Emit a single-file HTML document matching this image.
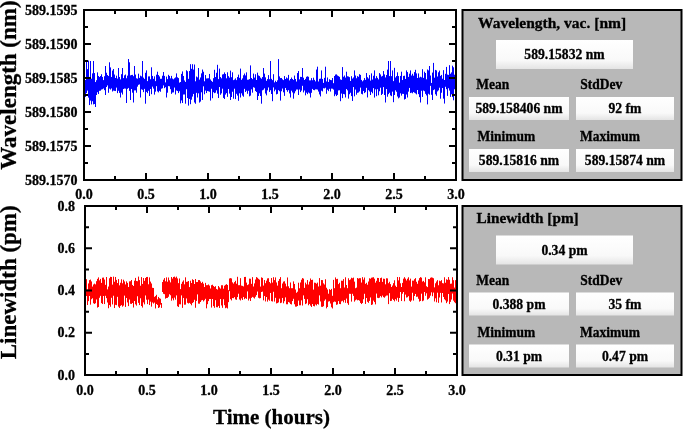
<!DOCTYPE html>
<html><head><meta charset="utf-8"><style>
html,body{margin:0;padding:0;background:#fff;}
svg{display:block;will-change:transform;}
text{font-family:"Liberation Serif", serif;font-weight:bold;fill:#000;stroke:#000;stroke-width:0.3px;}
.tk{font-size:14px;}
.at{font-size:23px;}
.at2{font-size:21px;}
.pt{font-size:15.5px;}
.pl{font-size:13.5px;}
.pv{font-size:14px;}
</style></head><body>
<svg width="685" height="430" viewBox="0 0 685 430">
<defs><linearGradient id="bg" x1="0" y1="0" x2="0" y2="1"><stop offset="0" stop-color="#ffffff"/><stop offset="0.7" stop-color="#f9f9f9"/><stop offset="1" stop-color="#e4e4e4"/></linearGradient></defs>
<path d="M85.5 80.02V96.91M86.5 61V93.06M87.5 69.15V90.62M88.5 60.6V97.61M89.5 76.93V105.07M90.5 61V100.61M91.5 78.7V104.4M92.5 73.4V101.28M93.5 61V104.4M94.5 73.06V104M95.5 82.06V107M96.5 80.19V95.01M97.5 72.36V92.26M98.5 75.97V94.05M99.5 77.04V90.85M100.5 76.04V90.69M101.5 74.24V89.54M102.5 76.91V89.23M103.5 80.1V88.5M104.5 76.2V90.18M105.5 66V95M106.5 72.76V87M107.5 75.06V85.43M108.5 76.03V92.81M109.5 62.3V88.65M110.5 67.42V89.55M111.5 77.02V88.44M112.5 70.58V91.51M113.5 69V90.62M114.5 74.51V90.86M115.5 77.97V91.06M116.5 75.68V87.64M117.5 78.61V93.14M118.5 68V90.81M119.5 76.96V92.92M120.5 79.4V97.5M121.5 74.18V92.61M122.5 68V94.52M123.5 78.1V89.03M124.5 75.33V88.54M125.5 74.53V88.67M126.5 78.26V103M127.5 75.63V88.88M128.5 59V87.96M129.5 62.3V90.93M130.5 75.39V100M131.5 74.98V89.04M132.5 74.84V92.69M133.5 76.18V102.5M134.5 66V90.42M135.5 74.56V90.39M136.5 78.28V92.71M137.5 78.66V86.63M138.5 73.68V84.83M139.5 77.89V84.43M140.5 75.66V97.5M141.5 76.39V89.35M142.5 61V89.84M143.5 77.61V92.14M144.5 78.86V88.87M145.5 72.81V103.7M146.5 70.37V91.91M147.5 81.1V93.15M148.5 76.41V90.79M149.5 76.35V96M150.5 79.24V88.99M151.5 67.3V94.22M152.5 75.93V86.64M153.5 78.84V88.61M154.5 76.34V94.64M155.5 81.14V91.68M156.5 74.68V86.16M157.5 71.7V91.39M158.5 75.04V92.4M159.5 76.43V90.86M160.5 78.82V91.75M161.5 78.74V88.73M162.5 75.73V88.28M163.5 72V85.43M164.5 75.88V88.17M165.5 82.39V87.19M166.5 76.58V97.5M167.5 79.13V92.7M168.5 74.82V86.1M169.5 75.98V86.33M170.5 78.36V89.19M171.5 75.88V93.86M172.5 78.56V92.52M173.5 79.29V92.4M174.5 78.28V87.57M175.5 77.4V94.52M176.5 73.4V90.5M177.5 77.29V91.06M178.5 78.08V93.09M179.5 82.59V91.26M180.5 82.01V103.36M181.5 73.89V100.43M182.5 71.41V103M183.5 75.97V94.54M184.5 80.44V94.49M185.5 81.9V103.7M186.5 70.28V89.22M187.5 71.23V98.04M188.5 78.85V105.6M189.5 70.99V98.99M190.5 64.2V104.21M191.5 68.82V99.71M192.5 64.2V96.57M193.5 69.57V93.94M194.5 64.5V102.48M195.5 81.3V103.76M196.5 76.51V92.87M197.5 77.35V97.5M198.5 68V93.34M199.5 79.61V102.58M200.5 77.48V101.59M201.5 73.36V92.29M202.5 69.54V100M203.5 71.73V86.35M204.5 81.28V94.28M205.5 75.04V90.58M206.5 78.49V93.05M207.5 78.33V91.07M208.5 78.23V91.35M209.5 73.94V91.75M210.5 79.49V100.6M211.5 80.87V88.79M212.5 81.83V98.24M213.5 78.17V92.2M214.5 69.8V93.16M215.5 77.03V92.69M216.5 72.77V90.33M217.5 64.8V93.7M218.5 79.1V98.04M219.5 68.6V87.04M220.5 77.06V94.78M221.5 78.29V93.36M222.5 74.47V88.69M223.5 74.14V97.9M224.5 72.42V99.03M225.5 73.94V94.6M226.5 78.3V93.14M227.5 72.3V96.86M228.5 76.16V88.98M229.5 77.64V93.61M230.5 70.6V100M231.5 77.21V97M232.5 72.3V91.75M233.5 80.11V98.7M234.5 79.57V88.73M235.5 78.37V99.08M236.5 80.1V93.8M237.5 77.06V95.59M238.5 74.64V100.78M239.5 77.84V93.32M240.5 68.6V97.5M241.5 79.81V93.35M242.5 78.37V95.57M243.5 75.27V96.73M244.5 73.55V88.85M245.5 75.43V92.06M246.5 72.36V90.71M247.5 79.76V93.78M248.5 79.65V90.82M249.5 79.11V96.33M250.5 65.4V95.63M251.5 77.99V89.35M252.5 79.15V92.68M253.5 73.58V87.28M254.5 77.61V87.75M255.5 74.23V91.06M256.5 80V92.04M257.5 72.65V100M258.5 75.42V95.99M259.5 76.07V93.33M260.5 77.66V96.02M261.5 78.7V103.7M262.5 77.04V90.33M263.5 68V89.71M264.5 73.61V88.33M265.5 77.34V93.54M266.5 80.82V95.37M267.5 79.12V90.4M268.5 75.12V87.46M269.5 79.19V91.96M270.5 61V90.22M271.5 78.84V94.02M272.5 80.14V101.2M273.5 74.2V87.43M274.5 82.36V91.33M275.5 80.72V89.66M276.5 82V94.37M277.5 80.31V93.89M278.5 59.1V90.15M279.5 76.38V91.23M280.5 78.06V100.6M281.5 77.98V91.26M282.5 79.31V88.55M283.5 80.1V92.33M284.5 76.04V95.89M285.5 78.99V87.96M286.5 77.44V90.12M287.5 78.37V91.79M288.5 74.89V90.17M289.5 80.4V93.45M290.5 79V97.5M291.5 77.53V90.71M292.5 78.97V92.44M293.5 79.91V98.7M294.5 75.56V93.37M295.5 78.97V91.26M296.5 81.53V89.55M297.5 73.05V89.51M298.5 71V95M299.5 79.35V89.49M300.5 76.84V92.12M301.5 76.97V90.62M302.5 68V85.83M303.5 77.72V92.42M304.5 80.01V90.5M305.5 78.87V95.33M306.5 76.81V92.69M307.5 76.29V94.13M308.5 76.8V92.51M309.5 80.35V93.4M310.5 80.35V97.5M311.5 78.09V92.82M312.5 80.23V88.93M313.5 77.69V90.02M314.5 79.87V90.22M315.5 81.38V89.36M316.5 69.55V89.38M317.5 66.7V89.62M318.5 81.47V91.57M319.5 78.85V94.44M320.5 78.67V96.41M321.5 70.42V90.69M322.5 78.95V91.4M323.5 82.88V88.24M324.5 77.85V88.45M325.5 66.7V87.76M326.5 81.45V93.76M327.5 77.49V89.75M328.5 81.96V91.13M329.5 79.23V88.84M330.5 79.96V91.58M331.5 80.19V88.63M332.5 78.03V88.74M333.5 83.16V89.62M334.5 76.01V96.2M335.5 74.56V94.42M336.5 74.36V96.04M337.5 75.48V94.91M338.5 76.11V90.45M339.5 76.82V90.29M340.5 79.44V101.2M341.5 79.87V93.59M342.5 67.09V98.16M343.5 76.74V93.95M344.5 75.52V94.33M345.5 77.58V97.5M346.5 71.7V89.07M347.5 76.26V90.37M348.5 76.51V98.63M349.5 77.13V94.26M350.5 80.98V92.75M351.5 76.2V96.1M352.5 78.58V100.98M353.5 77.48V87.06M354.5 70.4V96.33M355.5 75.47V89.58M356.5 78.24V94.7M357.5 76.13V92.82M358.5 76.77V92.5M359.5 74.2V91.43M360.5 74.88V87.63M361.5 79.91V93.84M362.5 81.33V94.38M363.5 80.29V90.99M364.5 78.07V93.1M365.5 79.87V92.21M366.5 73.03V87.85M367.5 77.23V97.45M368.5 78.47V90.2M369.5 75.08V91.45M370.5 80.58V95M371.5 73.39V91.83M372.5 79.56V93.31M373.5 75.76V88.14M374.5 70.38V97.59M375.5 78.35V89.34M376.5 76.11V96.2M377.5 77.85V89.21M378.5 79.38V95.31M379.5 73.1V91.25M380.5 74.43V87.71M381.5 76.52V95.02M382.5 75.88V93.86M383.5 71.03V87.1M384.5 74.38V95.02M385.5 77.46V102.5M386.5 75V89.05M387.5 69.63V96.74M388.5 61V94.17M389.5 76.07V92.75M390.5 61V95.42M391.5 76.15V96.18M392.5 70.4V91.64M393.5 81.12V102.19M394.5 67.84V94.99M395.5 77.46V90.32M396.5 76.07V91.79M397.5 72.3V96.52M398.5 76.06V98.38M399.5 82.63V97.5M400.5 75.92V93.35M401.5 71.7V95.62M402.5 80.03V93.85M403.5 75.91V93.92M404.5 75.71V99.56M405.5 78.97V98.92M406.5 70.4V94.51M407.5 72.09V97.5M408.5 76.91V91.65M409.5 73.66V87.95M410.5 70.4V93.07M411.5 75.5V92.63M412.5 73.76V93.32M413.5 75.69V92.04M414.5 72.08V92.72M415.5 69.8V93.4M416.5 73.4V94.39M417.5 78.01V90M418.5 73.45V94.14M419.5 77.54V97.17M420.5 76.74V102.5M421.5 77.35V90.78M422.5 69.2V96.94M423.5 77.89V90.55M424.5 71.7V91.23M425.5 73V93.85M426.5 79.31V95.43M427.5 69.49V104.4M428.5 70.38V93.79M429.5 66V94.7M430.5 75.52V85.88M431.5 82.94V94.8M432.5 72.58V100M433.5 62.9V90.17M434.5 77.7V89.4M435.5 69.92V94.32M436.5 70.42V95.79M437.5 76.49V91.43M438.5 72.3V90.36M439.5 70.62V87.71M440.5 75.88V98.7M441.5 74.93V92.76M442.5 78.72V88.01M443.5 70.16V98.65M444.5 80V103.57M445.5 73.82V86.79M446.5 66.91V89.18M447.5 74.56V95.9M448.5 74.91V88.25M449.5 65.18V90.58M450.5 73.76V96.86M451.5 72.38V94.33M452.5 65.7V97.07M453.5 67.3V100.29M454.5 74.71V89.27M455.5 74.97V94.73" fill="none" stroke="#0000ff" stroke-width="1"/>
<rect x="84" y="10" width="372" height="170" fill="none" stroke="#000" stroke-width="2"/>
<path d="M84 180V173M84 10V17M146 180V173M146 10V17M208 180V173M208 10V17M270 180V173M270 10V17M332 180V173M332 10V17M394 180V173M394 10V17M456 180V173M456 10V17M115 180V176M115 10V14M177 180V176M177 10V14M239 180V176M239 10V14M301 180V176M301 10V14M363 180V176M363 10V14M425 180V176M425 10V14M84 10H91M456 10H449M84 44H91M456 44H449M84 78H91M456 78H449M84 112H91M456 112H449M84 146H91M456 146H449M84 180H91M456 180H449M84 27H88M456 27H452M84 61H88M456 61H452M84 95H88M456 95H452M84 129H88M456 129H452M84 163H88M456 163H452" stroke="#000" stroke-width="2" fill="none"/>
<text x="77.5" y="15" text-anchor="end" class="tk">589.1595</text>
<text x="77.5" y="49" text-anchor="end" class="tk">589.1590</text>
<text x="77.5" y="83" text-anchor="end" class="tk">589.1585</text>
<text x="77.5" y="117" text-anchor="end" class="tk">589.1580</text>
<text x="77.5" y="151" text-anchor="end" class="tk">589.1575</text>
<text x="77.5" y="185" text-anchor="end" class="tk">589.1570</text>
<text x="84" y="199" text-anchor="middle" class="tk">0.0</text>
<text x="146" y="199" text-anchor="middle" class="tk">0.5</text>
<text x="208" y="199" text-anchor="middle" class="tk">1.0</text>
<text x="270" y="199" text-anchor="middle" class="tk">1.5</text>
<text x="332" y="199" text-anchor="middle" class="tk">2.0</text>
<text x="394" y="199" text-anchor="middle" class="tk">2.5</text>
<text x="456" y="199" text-anchor="middle" class="tk">3.0</text>
<path d="M86.5 279.18V296M87.5 289.49V305.01M88.5 283.44V301.14M89.5 280.13V295.97M90.5 279.58V304.67M91.5 281.42V299.27M92.5 286.57V298.28M93.5 284.48V303.26M94.5 283.64V303.94M95.5 284.36V303.24M96.5 281.18V299.46M97.5 278.88V307.62M98.5 277.38V306.97M99.5 280.35V297.79M100.5 278.92V295.87M101.5 282.9V303.13M102.5 277.69V304.02M103.5 277.54V296M104.5 279.54V304.06M105.5 284.84V295.82M106.5 277.01V298.16M107.5 289.37V302.5M108.5 286.57V308.25M109.5 278.25V305.05M110.5 276.81V306.77M111.5 277V297.81M112.5 284.61V304.43M113.5 276.62V295.75M114.5 281.72V308.04M115.5 276.97V304.83M116.5 279.9V305.17M117.5 283.06V296.84M118.5 279.07V306.65M119.5 285.35V307.94M120.5 282.71V305.88M121.5 279.27V305.12M122.5 283.31V306.69M123.5 279.71V305.61M124.5 281.43V295.64M125.5 284.44V306.93M126.5 281.36V297.98M127.5 282.87V302.46M128.5 287V306.1M129.5 281.37V299.57M130.5 281.21V303.77M131.5 279.99V303.95M132.5 284.94V303.03M133.5 286V307.53M134.5 280.69V301M135.5 277.9V304.37M136.5 280.97V305.6M137.5 281.21V296.27M138.5 276.6V302.86M139.5 280.11V305.05M140.5 285.72V298.28M141.5 277.12V306.06M142.5 283.94V307.59M143.5 278.02V302.4M144.5 280.84V304.38M145.5 278.03V295.48M146.5 277.03V299.7M147.5 276.93V304.11M148.5 284.29V299.63M149.5 277.4V305.04M150.5 281.58V301.67M151.5 283.47V306.64M152.5 287.79V302.47M153.5 287.97V303.58M154.5 296.85V302.62M155.5 296.08V308.48M156.5 294.81V304M157.5 299.37V304.96M158.5 296.94V308M159.5 298.22V307.32M160.5 298.74V304.7M161.5 303V307.9M162.5 282.04V292M163.5 279.74V293.8M164.5 278.09V294.21M165.5 281.31V298.67M166.5 277.37V298.04M167.5 281.72V297.93M168.5 277.51V296.79M169.5 280.31V294.25M170.5 282.37V295.24M171.5 276.99V300.68M172.5 278.59V298.39M173.5 276.98V300.33M174.5 276.58V297.62M175.5 277.69V299.66M176.5 276.62V295.4M177.5 278.41V306.26M178.5 283.13V307.03M179.5 278.47V304.26M180.5 289.1V304.39M181.5 283.8V295.4M182.5 281.71V307.88M183.5 280.37V297.98M184.5 284.31V304.73M185.5 277.33V304.62M186.5 281.88V298.46M187.5 281.65V302.83M188.5 281.01V303.52M189.5 287.09V302.92M190.5 280.7V303.85M191.5 283.03V305.29M192.5 279.25V303.05M193.5 280.05V302.18M194.5 284.01V299.8M195.5 278.99V307.77M196.5 282.07V300.93M197.5 282.03V294.4M198.5 280.07V303.67M199.5 280.06V303.69M200.5 281.45V302.01M201.5 283.06V300.46M202.5 281.83V299.97M203.5 283.67V301.42M204.5 287.02V300.29M205.5 282.86V298.82M206.5 285.18V308.34M207.5 285.13V304.2M208.5 284.48V301.1M209.5 285.59V299M210.5 288.48V299M211.5 285.17V307.57M212.5 284.71V299M213.5 285.96V306.15M214.5 286.91V307.8M215.5 286.16V300.18M216.5 288.94V307.2M217.5 289.56V307.31M218.5 286.03V305.94M219.5 287.39V307.96M220.5 288.6V299M221.5 285.24V305.45M222.5 285.26V307.82M223.5 288.7V299.23M224.5 285.71V305.16M225.5 284.83V308.21M226.5 284.15V307.7M227.5 284.96V308.51M228.5 290.15V302.17M229.5 278.47V291.2M230.5 278.12V299.18M231.5 278.46V300.45M232.5 282.35V298.04M233.5 283.58V298.23M234.5 282.1V297.15M235.5 280.81V299.41M236.5 283.7V299.82M237.5 276.81V297.07M238.5 285.21V293.74M239.5 285.16V299.47M240.5 278.16V300.48M241.5 285.61V298.41M242.5 285.89V299.98M243.5 286.42V296.98M244.5 276.98V299.2M245.5 276.88V298.19M246.5 282.62V298.9M247.5 285.08V291.43M248.5 284.34V300.53M249.5 278.6V298.61M250.5 278.75V300.98M251.5 283.83V297.9M252.5 277.14V296.92M253.5 286.51V297.59M254.5 283.42V298.54M255.5 279.53V296.77M256.5 277.08V295.1M257.5 277.77V291.57M258.5 278.82V297.81M259.5 279.67V298.42M260.5 286.57V298.14M261.5 277.36V291.99M262.5 277.9V291.63M263.5 285.59V300.35M264.5 280.04V295.97M265.5 283.18V301.46M266.5 280.7V297M267.5 278.41V301.61M268.5 278.21V299.64M269.5 282.03V300.76M270.5 283.3V292.99M271.5 278.01V301.17M272.5 282.6V301.53M273.5 277.19V291.77M274.5 280.1V301.58M275.5 277.44V297.84M276.5 282.44V303.41M277.5 285.59V303.1M278.5 280.91V302.42M279.5 278.98V298.68M280.5 277.12V303.13M281.5 288.2V302.67M282.5 283.49V297.96M283.5 281.59V303.34M284.5 281.26V301.22M285.5 283.58V297.4M286.5 286.41V304.27M287.5 277.46V304.29M288.5 286.29V301.99M289.5 288.2V302.62M290.5 282.47V304.07M291.5 288.2V304.48M292.5 288.2V301.04M293.5 281.39V298.8M294.5 283.94V304.25M295.5 289.51V306.65M296.5 292.77V306.64M297.5 291.71V306.03M298.5 282.72V300.59M299.5 288.27V305.32M300.5 282.47V305.3M301.5 279.71V300.33M302.5 278.07V305.56M303.5 278.62V295.4M304.5 287.88V298.95M305.5 282.61V304.14M306.5 284.33V303.42M307.5 280.07V299.2M308.5 284.57V305.25M309.5 281.61V303.94M310.5 278.49V305.68M311.5 279.99V306.97M312.5 279.74V304.06M313.5 289.6V306.05M314.5 282.63V306.38M315.5 282.86V304.51M316.5 283.69V305.45M317.5 282.61V303.99M318.5 286.47V304.62M319.5 278.09V295.4M320.5 285.68V301.46M321.5 280.03V306.8M322.5 280.11V306.92M323.5 283.35V306.19M324.5 284.53V300.73M325.5 279.24V299.39M326.5 287.72V308.37M327.5 289.46V307.01M328.5 293.71V301.59M329.5 289.17V301.2M330.5 289.94V303.54M331.5 288.87V307.29M332.5 295.8V308.47M333.5 279.87V302.21M334.5 288.2V301.53M335.5 277.44V301.86M336.5 279.11V304.84M337.5 278.82V304.41M338.5 284.12V301.09M339.5 282.75V303.95M340.5 288.2V304.16M341.5 280.68V301.4M342.5 280.81V300.8M343.5 279.11V302.39M344.5 287.51V300.12M345.5 277.3V302.85M346.5 284.97V298.59M347.5 288.2V303.2M348.5 278.27V304.88M349.5 280.11V293.8M350.5 279.4V293.88M351.5 277.72V301.62M352.5 278.23V293.8M353.5 277.6V295.88M354.5 281.62V301.63M355.5 288.2V300.26M356.5 287.6V299.47M357.5 278.01V300.34M358.5 278.61V300.06M359.5 278.15V300.75M360.5 278.2V302.91M361.5 282.57V304.06M362.5 277.15V303.07M363.5 279.6V299.26M364.5 277.53V293.8M365.5 283.83V303.93M366.5 282.82V298M367.5 284.74V301.77M368.5 281.5V302.83M369.5 278.29V300.92M370.5 278.72V297.46M371.5 277.69V304.98M372.5 277.46V304.46M373.5 277.22V300.62M374.5 278.71V302.1M375.5 282.65V304.4M376.5 280.8V293.59M377.5 277.92V297.84M378.5 278.03V298.13M379.5 281.95V297.71M380.5 278.12V296.07M381.5 277.61V297.38M382.5 281.87V295.61M383.5 278.67V297.17M384.5 278.86V297.72M385.5 284.32V296.42M386.5 278.25V295.56M387.5 278.4V295.47M388.5 283.19V304.11M389.5 281.78V293.2M390.5 284.13V301.07M391.5 287V300.8M392.5 285.5V298.84M393.5 283.17V300.05M394.5 280.31V301.38M395.5 285.65V299.17M396.5 287V300.62M397.5 277.03V297.81M398.5 280.36V301.92M399.5 277.11V298.03M400.5 283.3V292M401.5 287V301.04M402.5 282.88V293.73M403.5 278.65V292M404.5 277.16V301.27M405.5 278.62V294.6M406.5 280.49V297.56M407.5 278.73V297.25M408.5 277.27V296.16M409.5 280.38V300.78M410.5 278.65V301.85M411.5 286.57V300.51M412.5 280.61V292.77M413.5 280.67V300.6M414.5 279.2V295.97M415.5 278.11V293.96M416.5 281.76V296.83M417.5 283.79V296.66M418.5 280.51V298.81M419.5 278.13V301.6M420.5 277.11V300.94M421.5 277.67V293.69M422.5 281.55V301.23M423.5 280.89V300.57M424.5 282.3V292M425.5 277.32V295.77M426.5 286.21V293.31M427.5 287.08V299.64M428.5 279V298.85M429.5 279.14V297.78M430.5 277.78V295.66M431.5 277.36V292.35M432.5 277.66V296.22M433.5 278.24V292.58M434.5 287.35V301.5M435.5 283.27V298.34M436.5 281.47V302.25M437.5 280.13V292.7M438.5 285.26V302.85M439.5 280.68V297.49M440.5 281.17V292.87M441.5 280.13V302.49M442.5 283.1V292.99M443.5 283.41V296.94M444.5 277.26V299.28M445.5 282.72V300.38M446.5 279.27V303.15M447.5 279.86V301.6M448.5 277.07V293.97M449.5 279.76V304.09M450.5 283.79V301.87M451.5 283.6V299.55M452.5 277.24V293.57M453.5 280.18V300.67M454.5 287.58V302.23M455.5 280.13V303.21M456.5 277.44V302.76" fill="none" stroke="#ff0000" stroke-width="1"/>
<rect x="85" y="206" width="372" height="169" fill="none" stroke="#000" stroke-width="2"/>
<path d="M85 375V368M85 206V213M147 375V368M147 206V213M209 375V368M209 206V213M271 375V368M271 206V213M333 375V368M333 206V213M395 375V368M395 206V213M457 375V368M457 206V213M116 375V371M116 206V210M178 375V371M178 206V210M240 375V371M240 206V210M302 375V371M302 206V210M364 375V371M364 206V210M426 375V371M426 206V210M85 375.0H92M457 375.0H450M85 332.75H92M457 332.75H450M85 290.5H92M457 290.5H450M85 248.25H92M457 248.25H450M85 206.0H92M457 206.0H450M85 353.875H89M457 353.875H453M85 311.625H89M457 311.625H453M85 269.375H89M457 269.375H453M85 227.125H89M457 227.125H453" stroke="#000" stroke-width="2" fill="none"/>
<text x="75" y="379.7" text-anchor="end" class="tk">0.0</text>
<text x="75" y="337.45" text-anchor="end" class="tk">0.2</text>
<text x="75" y="295.2" text-anchor="end" class="tk">0.4</text>
<text x="75" y="252.95" text-anchor="end" class="tk">0.6</text>
<text x="75" y="210.7" text-anchor="end" class="tk">0.8</text>
<text x="85" y="394.5" text-anchor="middle" class="tk">0.0</text>
<text x="147" y="394.5" text-anchor="middle" class="tk">0.5</text>
<text x="209" y="394.5" text-anchor="middle" class="tk">1.0</text>
<text x="271" y="394.5" text-anchor="middle" class="tk">1.5</text>
<text x="333" y="394.5" text-anchor="middle" class="tk">2.0</text>
<text x="395" y="394.5" text-anchor="middle" class="tk">2.5</text>
<text x="457" y="394.5" text-anchor="middle" class="tk">3.0</text>
<text transform="translate(16.3,85) rotate(-90)" text-anchor="middle" class="at">Wavelength (nm)</text>
<text transform="translate(16.3,282.3) rotate(-90)" text-anchor="middle" class="at">Linewidth (pm)</text>
<text x="271.5" y="424" text-anchor="middle" class="at2">Time (hours)</text>
<rect x="462.5" y="10" width="219" height="170" fill="#b8b8b8" stroke="#000" stroke-width="2"/>
<text x="478" y="27.5" class="pt" style="font-size:15.5px">Wavelength, vac. [nm]</text>
<rect x="496" y="40" width="137" height="29" fill="url(#bg)"/><text transform="translate(564.5,59.3) scale(0.975,1)" text-anchor="middle" class="pv">589.15832 nm</text>
<text transform="translate(476.3,89.3) scale(1,1.1)" class="pl">Mean</text>
<text transform="translate(580.3,89.3) scale(1,1.1)" class="pl">StdDev</text>
<rect x="469" y="97" width="100" height="23" fill="url(#bg)"/><text transform="translate(519.0,113.3) scale(0.975,1)" text-anchor="middle" class="pv">589.158406 nm</text>
<rect x="576" y="97" width="98" height="23" fill="url(#bg)"/><text transform="translate(625.0,113.3) scale(0.975,1)" text-anchor="middle" class="pv">92 fm</text>
<text transform="translate(477.5,141.1) scale(1,1.1)" class="pl">Minimum</text>
<text transform="translate(580.0,141.1) scale(1,1.1)" class="pl">Maximum</text>
<rect x="469" y="149" width="100" height="23" fill="url(#bg)"/><text transform="translate(519.0,165.3) scale(0.975,1)" text-anchor="middle" class="pv">589.15816 nm</text>
<rect x="576" y="149" width="98" height="23" fill="url(#bg)"/><text transform="translate(625.0,165.3) scale(0.975,1)" text-anchor="middle" class="pv">589.15874 nm</text>
<rect x="462.5" y="206" width="219" height="169" fill="#b8b8b8" stroke="#000" stroke-width="2"/>
<text x="476.6" y="223.0" class="pt" style="font-size:15.25px">Linewidth [pm]</text>
<rect x="496" y="235.5" width="137" height="29" fill="url(#bg)"/><text transform="translate(564.5,254.8) scale(0.975,1)" text-anchor="middle" class="pv">0.34 pm</text>
<text transform="translate(476.3,284.8) scale(1,1.1)" class="pl">Mean</text>
<text transform="translate(580.3,284.8) scale(1,1.1)" class="pl">StdDev</text>
<rect x="469" y="292.5" width="100" height="23" fill="url(#bg)"/><text transform="translate(519.0,308.8) scale(0.975,1)" text-anchor="middle" class="pv">0.388 pm</text>
<rect x="576" y="292.5" width="98" height="23" fill="url(#bg)"/><text transform="translate(625.0,308.8) scale(0.975,1)" text-anchor="middle" class="pv">35 fm</text>
<text transform="translate(477.5,336.6) scale(1,1.1)" class="pl">Minimum</text>
<text transform="translate(580.0,336.6) scale(1,1.1)" class="pl">Maximum</text>
<rect x="469" y="344.5" width="100" height="23" fill="url(#bg)"/><text transform="translate(519.0,360.8) scale(0.975,1)" text-anchor="middle" class="pv">0.31 pm</text>
<rect x="576" y="344.5" width="98" height="23" fill="url(#bg)"/><text transform="translate(625.0,360.8) scale(0.975,1)" text-anchor="middle" class="pv">0.47 pm</text>
</svg>
</body></html>
